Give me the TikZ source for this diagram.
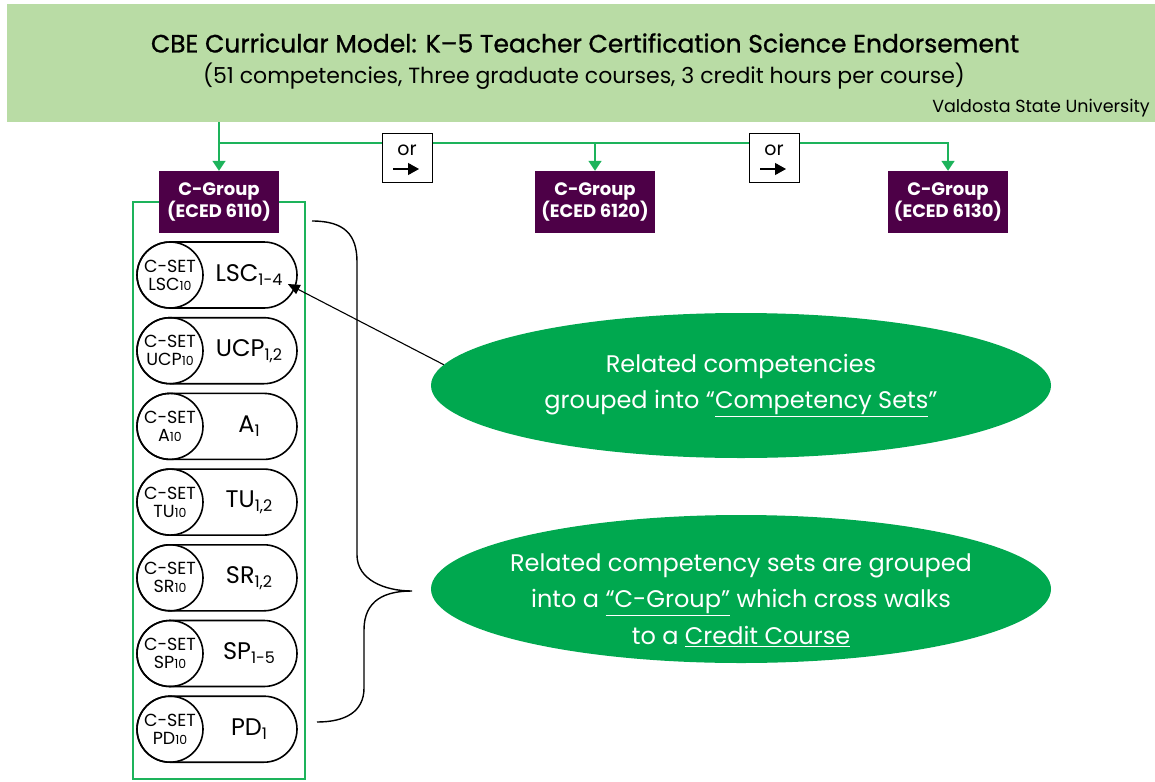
\documentclass[tikz,border=0pt]{standalone}
\usepackage{fontspec}
\setmainfont{Poppins}
\newfontfamily\titlefont[FakeBold=1]{Poppins}
\usepackage{tikz}
\usetikzlibrary{arrows.meta,shapes.geometric,shapes.misc,positioning}
\definecolor{hdrgreen}{HTML}{B9DCA5}
\definecolor{vsugreen}{HTML}{00A84F}
\definecolor{linegreen}{HTML}{1DB35B}
\definecolor{plum}{HTML}{4D0047}
\newcommand\lowsub[1]{\raisebox{-0.3ex}{\fontsize{16}{16}\selectfont #1}}
\newcommand\smallten{{\fontsize{12.5}{12.5}\selectfont 10}}

\begin{document}
\begin{tikzpicture}[x=1pt,y=-1pt,inner sep=0pt,
                    >={Triangle[length=10pt,width=13pt]}]
  \tikzstyle{flow}=[draw=linegreen,line width=1.7pt]
  \tikzstyle{cgroup}=[rectangle,fill=plum,text=white,align=center,
                      font=\bfseries\fontsize{18}{20}\selectfont,
                      minimum width=120pt,minimum height=62pt]
  \tikzstyle{orbox}=[rectangle,draw=black,fill=white,line width=1pt,
                     minimum width=50pt,minimum height=49pt]
  \tikzstyle{cpill}=[rounded rectangle,draw=black,line width=1.6pt,
                     minimum width=160pt,minimum height=66pt]
  \tikzstyle{ccircle}=[circle,draw=black,line width=1.6pt,minimum size=66pt,
                       align=center,font=\fontsize{17.5}{18}\selectfont]
  \tikzstyle{bubble}=[ellipse,fill=vsugreen,minimum width=620pt]
  \tikzstyle{bubbletext}=[text=white,align=center,font=\fontsize{24}{36.5}\selectfont]

  \useasboundingbox (0,0) rectangle (1155,781);

  % header
  \node[fill=hdrgreen,minimum width=1148pt,minimum height=118pt] (header) at (581,63) {};
  \node[font=\titlefont\fontsize{25}{27}\selectfont] (title) at (585,43)
    {CBE Curricular Model: K–5 Teacher Certification Science Endorsement};
  \node[font=\fontsize{22}{24}\selectfont] (subtitle) at (584,76)
    {(51 competencies, Three graduate courses, 3 credit hours per course)};
  \node[font=\fontsize{17.5}{19}\selectfont,anchor=east] (vsu) at (1150,108)
    {Valdosta State University};

  % course frame
  \node[draw=linegreen,line width=2.5pt,minimum width=172pt,minimum height=577pt] (frame) at (219,490.5) {};

  % c-groups and or boxes
  \node[cgroup] (cg1) at (219,202) {C-Group\\(ECED 6110)};
  \node[cgroup] (cg2) at (595,202) {C-Group\\(ECED 6120)};
  \node[cgroup] (cg3) at (948,202) {C-Group\\(ECED 6130)};
  \node[orbox,label={[yshift=7pt,font=\fontsize{19}{20}\selectfont]center:or}] (or1) at (407,157.5) {};
  \node[orbox,label={[yshift=7pt,font=\fontsize{19}{20}\selectfont]center:or}] (or2) at (774,157.5) {};
  \foreach \o in {or1,or2}
    \draw[-{Triangle[length=11pt,width=12pt]},line width=1.2pt]
      ([xshift=-14pt,yshift=-11.5pt]\o.center) -- ([xshift=12pt,yshift=-11.5pt]\o.center);

  \coordinate (split) at (cg1.north |- 0,143);
  \draw[flow,->] (header.south -| cg1.north) -- (cg1.north);
  \draw[flow] (split) -- (or1.west |- split);
  \draw[flow] (or1.east |- split) -- (or2.west |- split);
  \draw[flow,->] (or2.east |- split) -| (cg3.north);
  \draw[flow,->] (cg2.north |- split) -- (cg2.north);

  % competency sets
  \foreach \a/\b [count=\i] in {LSC/1-4,UCP/{1,2},A/1,TU/{1,2},SR/{1,2},SP/1-5,PD/1} {
    \node[cpill,label={[xshift=32pt,font=\fontsize{24}{25}\selectfont]center:\a\lowsub{\b}}]
      (s\i) at (217,{199.3+75.7*\i}) {};
    \node[ccircle,anchor=west] (c\i) at (s\i.west) {C-SET\\\a\smallten};
  }

  % brace
  \draw[line width=1.4pt] (312,221) .. controls (345,221) and (357,235) .. (357,262)
    -- (357,555) .. controls (357,580) and (385,591) .. (412,591)
    .. controls (385,591) and (364,600) .. (364,630)
    -- (364,688) .. controls (364,712) and (345,722) .. (317,722);

  % explanations
  \node[bubble,minimum height=145pt,
        label={[bubbletext]center:{Related competencies\\grouped into \textquotedblleft\underline{Competency Sets}\textquotedblright}}]
    (ell1) at (741,385.5) {};
  \node[bubble,minimum height=148pt,
        label={[bubbletext,yshift=-11pt]center:{Related competency sets are grouped\\into a \underline{\textquotedblleft C-Group\textquotedblright} which cross walks\\to a \underline{Credit Course}}}]
    (ell2) at (741,589) {};

  \draw[line width=1.1pt,-{Triangle[length=12pt,width=10pt]}] (ell1.176) -- ([xshift=-10pt,yshift=-9pt]s1.east);
\end{tikzpicture}
\end{document}
